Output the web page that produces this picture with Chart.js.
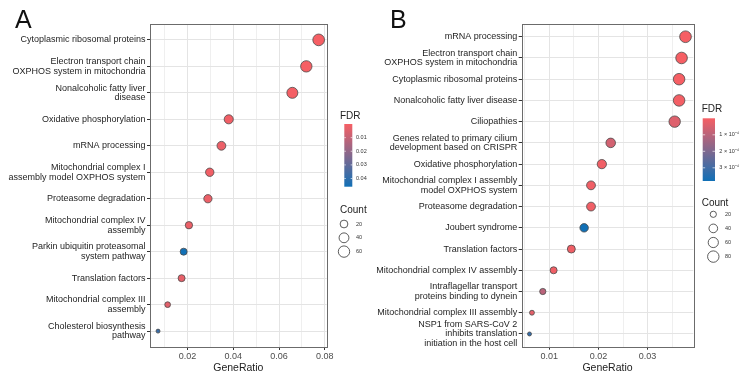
<!DOCTYPE html>
<html>
<head>
<meta charset="utf-8">
<script src="https://cdn.jsdelivr.net/npm/chart.js@4.4.0/dist/chart.umd.min.js"></script>
<style>
  body { margin: 0; background: #fff; }
  #wrap { position: relative; width: 750px; height: 378px; overflow: hidden; }
  #chartA { position: absolute; left: 0; top: 0; }
  #chartB { position: absolute; left: 368px; top: 0; }
</style>
</head>
<body>
<div id="wrap">
  <canvas id="chartA" width="368" height="378"></canvas>
  <canvas id="chartB" width="382" height="378"></canvas>
</div>
<script>
// panel A data
const termsA = [
  'Cytoplasmic ribosomal proteins',
  ['Electron transport chain', 'OXPHOS system in mitochondria'],
  ['Nonalcoholic fatty liver', 'disease'],
  'Oxidative phosphorylation',
  'mRNA processing',
  ['Mitochondrial complex I', 'assembly model OXPHOS system'],
  'Proteasome degradation',
  ['Mitochondrial complex IV', 'assembly'],
  ['Parkin ubiquitin proteasomal', 'system pathway'],
  'Translation factors',
  ['Mitochondrial complex III', 'assembly'],
  ['Cholesterol biosynthesis', 'pathway']
];
const ratioA = [0.0773, 0.0719, 0.0658, 0.0380, 0.0348, 0.0297, 0.0289, 0.0206, 0.0183, 0.0174, 0.0113, 0.0071];
const countA = [65, 60, 55, 32, 29, 25, 24, 17, 15, 15, 9, 6];
const fdrA = [0.000001, 0.00001, 0.0005, 0.001, 0.002, 0.001, 0.002, 0.002, 0.046, 0.003, 0.004, 0.038];
const xTicksA = [0.02, 0.04, 0.06, 0.08];
const xTickLabelsA = ['0.02', '0.04', '0.06', '0.08'];
const fdrBreaksA = [0.01, 0.02, 0.03, 0.04];
const fdrLabelsA = ['0.01', '0.02', '0.03', '0.04'];
const countBreaksA = [20, 40, 60];

// panel B data
const termsB = [
  'mRNA processing',
  ['Electron transport chain', 'OXPHOS system in mitochondria'],
  'Cytoplasmic ribosomal proteins',
  'Nonalcoholic fatty liver disease',
  'Ciliopathies',
  ['Genes related to primary cilium', 'development based on CRISPR'],
  'Oxidative phosphorylation',
  ['Mitochondrial complex I assembly', 'model OXPHOS system'],
  'Proteasome degradation',
  'Joubert syndrome',
  'Translation factors',
  'Mitochondrial complex IV assembly',
  ['Intraflagellar transport', 'proteins binding to dynein'],
  'Mitochondrial complex III assembly',
  ['NSP1 from SARS-CoV 2', 'inhibits translation', 'initiation in the host cell']
];
const ratioB = [0.0377, 0.0369, 0.0364, 0.0364, 0.0355, 0.0225, 0.0207, 0.0185, 0.0185, 0.0171, 0.0145, 0.0109, 0.0087, 0.0065, 0.0060];
const countB = [85, 83, 82, 82, 80, 51, 47, 42, 42, 38, 33, 25, 20, 15, 14];
const fdrB = [1e-8, 1e-7, 1e-7, 5e-6, 4e-5, 6e-5, 1e-5, 1e-5, 1e-5, 3.8e-4, 1e-5, 1e-5, 1e-4, 3e-5, 3.2e-4];
const xTicksB = [0.01, 0.02, 0.03];
const xTickLabelsB = ['0.01', '0.02', '0.03'];
const fdrBreaksB = [1e-4, 2e-4, 3e-4];
const fdrLabelsB = ['1 × 10⁻⁴', '2 × 10⁻⁴', '3 × 10⁻⁴'];
const countBreaksB = [20, 40, 60, 80];

const FONT = "'Liberation Sans', Arial, sans-serif";
const LOW = [246, 95, 100];
const HIGH = [17, 112, 182];

function mix(t) {
  t = Math.max(0, Math.min(1, t));
  const c = LOW.map((v, i) => Math.round(v + (HIGH[i] - v) * t));
  return `rgb(${c[0]},${c[1]},${c[2]})`;
}

function makePanel(id, terms, ratio, count, fdr, xTicks, xTickLabels, fdrBreaks, fdrLabels, countBreaks, look) {
  const canvas = document.getElementById(id);
  const W = canvas.width, H = canvas.height;
  const cmin = Math.min(...count), cmax = Math.max(...count);
  const fmin = Math.min(...fdr), fmax = Math.max(...fdr);
  const rmin = Math.min(...ratio), rmax = Math.max(...ratio);
  const pad = (rmax - rmin) * 0.05;

  const dia = c => 5 + 7.7 * Math.sqrt(Math.max(0, (c - cmin) / (cmax - cmin)));
  const colorOf = f => mix((f - fmin) / (fmax - fmin));
  const isMajor = v => xTicks.some(t => Math.abs(t - v) < 1e-6);

  const decor = {
    id: 'decor',
    afterDatasetsDraw(chart) {
      const c = chart.ctx, a = chart.chartArea;
      c.save();
      // panel border
      c.strokeStyle = '#6b6b6b';
      c.lineWidth = 1;
      c.strokeRect(Math.round(a.left) + 0.5, Math.round(a.top) + 0.5,
        Math.round(a.right - a.left), Math.round(a.bottom - a.top));

      // panel letter
      c.fillStyle = '#111';
      c.font = `25px ${FONT}`;
      c.textBaseline = 'alphabetic';
      c.textAlign = 'left';
      c.fillText(look.letter, look.letterX, look.letterY);

      // FDR colour bar
      c.fillStyle = '#222';
      c.font = `10px ${FONT}`;
      c.textBaseline = 'middle';
      c.fillText('FDR', look.titleX, look.fdrTitleY);
      const g = c.createLinearGradient(0, look.barTop, 0, look.barBottom);
      for (let k = 0; k <= 10; k++) g.addColorStop(k / 10, mix(k / 10));
      c.fillStyle = g;
      c.fillRect(look.barX, look.barTop, look.barW, look.barBottom - look.barTop);
      c.font = `5.5px ${FONT}`;
      fdrBreaks.forEach((b, i) => {
        const y = look.barTop + (b - fmin) / (fmax - fmin) * (look.barBottom - look.barTop);
        c.strokeStyle = 'rgba(255,255,255,0.8)';
        c.lineWidth = 0.8;
        c.beginPath();
        c.moveTo(look.barX, y); c.lineTo(look.barX + look.barW * 0.2, y);
        c.moveTo(look.barX + look.barW * 0.8, y); c.lineTo(look.barX + look.barW, y);
        c.stroke();
        c.fillStyle = '#333';
        c.fillText(fdrLabels[i], look.fdrLabelX, y);
      });

      // Count legend
      c.fillStyle = '#222';
      c.font = `10px ${FONT}`;
      c.fillText('Count', look.titleX, look.countTitleY);
      c.font = `5.5px ${FONT}`;
      countBreaks.forEach((b, i) => {
        const y = look.circleY0 + i * look.circleGap;
        c.beginPath();
        c.arc(look.circleX, y, (dia(b) - 1) / 2, 0, Math.PI * 2);
        c.fillStyle = '#fff';
        c.fill();
        c.strokeStyle = '#333';
        c.lineWidth = 0.8;
        c.stroke();
        c.fillStyle = '#333';
        c.fillText(String(b), look.countLabelX, y);
      });
      c.restore();
    }
  };

  return new Chart(canvas, {
    type: 'bubble',
    data: {
      datasets: [{
        data: ratio.map((x, i) => ({ x: x, y: i, r: (dia(count[i]) - 1) / 2 })),
        backgroundColor: fdr.map(colorOf),
        borderColor: '#4a4a4a',
        borderWidth: 0.8,
        clip: false
      }]
    },
    options: {
      responsive: false,
      animation: false,
      events: [],
      layout: { padding: { left: 0, top: look.top, right: W - look.right, bottom: 0 } },
      plugins: { legend: { display: false }, tooltip: { enabled: false } },
      scales: {
        x: {
          type: 'linear',
          min: rmin - pad,
          max: rmax + pad,
          afterBuildTicks: s => {
            const t = [];
            for (let v = Math.ceil(s.min / look.minor) * look.minor; v <= s.max + 1e-9; v += look.minor) {
              t.push({ value: +v.toFixed(4) });
            }
            s.ticks = t;
          },
          afterFit: s => { s.height = H - look.bottom; },
          ticks: {
            autoSkip: false,
            maxRotation: 0,
            padding: 1,
            color: '#4d4d4d',
            font: { family: FONT, size: 9 },
            callback: v => {
              const k = xTicks.findIndex(t => Math.abs(t - v) < 1e-6);
              return k < 0 ? '' : xTickLabels[k];
            }
          },
          grid: {
            color: c => (c.tick && isMajor(c.tick.value)) ? '#e4e4e4' : '#efefef',
            tickColor: c => (c.tick && isMajor(c.tick.value)) ? '#333' : 'rgba(0,0,0,0)',
            tickLength: 3
          },
          border: { display: false },
          title: {
            display: true,
            text: 'GeneRatio',
            color: '#222',
            font: { family: FONT, size: 10.5 },
            padding: { top: 0, bottom: 4 }
          }
        },
        y: {
          type: 'linear',
          reverse: true,
          min: -0.6,
          max: terms.length - 0.4,
          afterBuildTicks: s => { s.ticks = terms.map((t, i) => ({ value: i })); },
          afterFit: s => { s.width = look.left; },
          ticks: {
            autoSkip: false,
            padding: 1.5,
            color: '#1e1e1e',
            font: { family: FONT, size: 9, lineHeight: 1.07 },
            callback: v => terms[v]
          },
          grid: { color: '#e4e4e4', tickColor: '#333', tickLength: 3 },
          border: { display: false }
        }
      }
    },
    plugins: [decor]
  });
}

makePanel('chartA', termsA, ratioA, countA, fdrA, xTicksA, xTickLabelsA, fdrBreaksA, fdrLabelsA, countBreaksA, {
  left: 150, top: 24, right: 326.7, bottom: 347, minor: 0.01,
  letter: 'A', letterX: 15, letterY: 28,
  titleX: 340, fdrTitleY: 116, barX: 344.3, barW: 8, barTop: 124, barBottom: 186.7, fdrLabelX: 356,
  countTitleY: 210, circleX: 344, circleY0: 224, circleGap: 13.8, countLabelX: 356
});

// panel B canvas starts at x = 368 on the page
makePanel('chartB', termsB, ratioB, countB, fdrB, xTicksB, xTickLabelsB, fdrBreaksB, fdrLabelsB, countBreaksB, {
  left: 153.7, top: 24, right: 325.3, bottom: 346.7, minor: 0.005,
  letter: 'B', letterX: 22, letterY: 28,
  titleX: 333.7, fdrTitleY: 109, barX: 334.7, barW: 12.3, barTop: 118.3, barBottom: 181, fdrLabelX: 351.3,
  countTitleY: 203, circleX: 345.3, circleY0: 214.3, circleGap: 14.1, countLabelX: 357
});
</script>
</body>
</html>
